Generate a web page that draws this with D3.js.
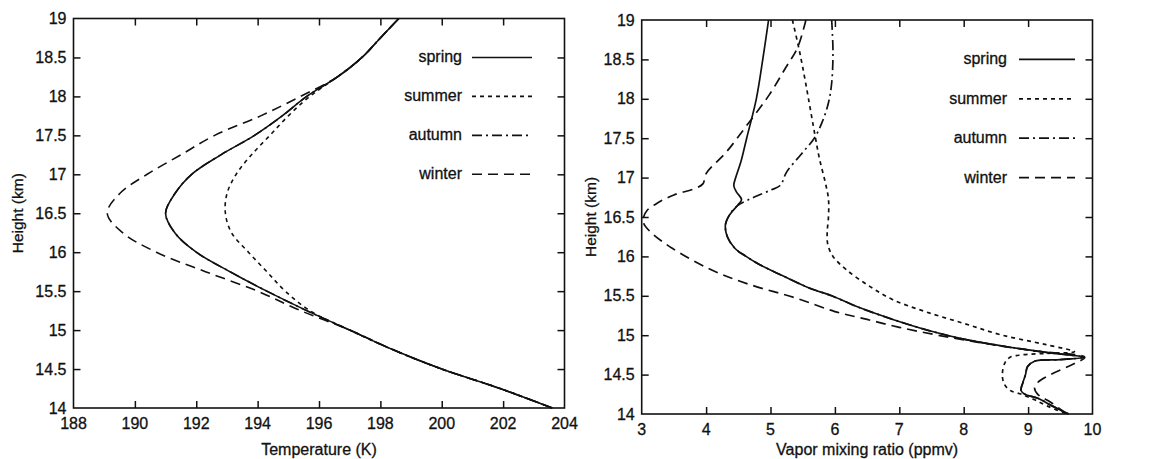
<!DOCTYPE html>
<html>
<head>
<meta charset="utf-8">
<script src="https://cdn.jsdelivr.net/npm/d3@7/dist/d3.min.js"></script>
<style>
  html, body { margin: 0; padding: 0; background: #fff; }
  svg { display: block; }
  text { font-family: "Liberation Sans", Arial, Helvetica, sans-serif; fill: #111; stroke: #111; stroke-width: 0.3px; }
</style>
</head>
<body>
<svg id="chart" width="1154" height="459"></svg>
<script>
// ---- Seasonal profiles: temperature (K) versus height (km) ----
const tempHeights = [14, 14.25, 14.5, 14.75, 15, 15.25, 15.5, 15.75, 16, 16.25, 16.5,
                     16.75, 17, 17.25, 17.5, 17.75, 18, 18.25, 18.5, 18.75, 19];
const tempSpring = [203.6, 201.9, 200.0, 198.4, 197.0, 195.6, 194.3, 193.1, 192.0, 191.3, 191.0,
                    191.3, 191.85, 192.8, 193.9, 194.8, 195.6, 196.6, 197.4, 198.0, 198.6];
const tempSummer = [203.6, 201.9, 200.0, 198.4, 197.0, 195.7, 194.9, 194.3, 193.7, 193.15, 192.95,
                    193.0, 193.3, 193.8, 194.4, 195.0, 195.7, 196.6, 197.4, 198.0, 198.6];
const tempAutumn = [203.6, 201.9, 200.0, 198.4, 197.0, 195.6, 194.3, 193.1, 192.0, 191.3, 191.0,
                    191.3, 191.85, 192.8, 193.9, 194.8, 195.6, 196.6, 197.4, 198.0, 198.6];
const tempWinter = [203.6, 201.9, 200.0, 198.4, 197.0, 195.4, 194.0, 192.3, 190.7, 189.6, 189.1,
                    189.5, 190.4, 191.5, 192.6, 194.1, 195.4, 196.6, 197.4, 198.0, 198.6];

// ---- Seasonal profiles: water vapour mixing ratio (ppmv) versus height (km) ----
const vapSpringH = [19.0, 18.5, 18.0, 17.5, 17.2, 17.0, 16.9, 16.82, 16.72, 16.65, 16.52, 16.4,
                    16.25, 16.1, 16.0, 15.9, 15.75, 15.6, 15.5, 15.36, 15.2, 15.05, 14.95, 14.85,
                    14.78, 14.72, 14.69, 14.67, 14.6, 14.5, 14.4, 14.3, 14.25, 14.2, 14.1, 14.0];
const vapSpring  = [4.97, 4.88, 4.78, 4.63, 4.54, 4.46, 4.43, 4.47, 4.55, 4.49, 4.36, 4.30,
                    4.33, 4.45, 4.62, 4.82, 5.2, 5.6, 5.95, 6.35, 6.9, 7.5, 8.0, 8.7,
                    9.3, 9.87, 9.5, 9.1, 8.99, 8.96, 8.92, 8.89, 8.95, 9.15, 9.38, 9.63];

const vapSummerH = [19.0, 18.68, 18.4, 18.0, 17.54, 17.24, 16.94, 16.73, 16.5, 16.3, 16.15, 16.0,
                    15.83, 15.62, 15.45, 15.3, 15.15, 15.0, 14.88, 14.79, 14.77, 14.75, 14.72, 14.65,
                    14.5, 14.38, 14.3, 14.25, 14.18, 14.1, 14.0];
const vapSummer  = [5.34, 5.43, 5.5, 5.59, 5.69, 5.76, 5.85, 5.9, 5.9, 5.88, 5.89, 5.97,
                    6.18, 6.54, 6.9, 7.4, 8.0, 8.6, 9.28, 9.72, 9.3, 8.9, 8.72, 8.64,
                    8.6, 8.63, 8.72, 8.9, 9.1, 9.3, 9.6];

const vapAutumnH = [19.0, 18.6, 18.2, 17.95, 17.7, 17.5, 17.3, 17.07, 16.9, 16.84, 16.75, 16.65, 16.55,
                    16.4, 16.25, 16.1, 16.0, 15.9, 15.75, 15.6, 15.5, 15.36, 15.2, 15.05, 14.95, 14.85,
                    14.78, 14.72, 14.69, 14.67, 14.6, 14.5, 14.4, 14.3, 14.25, 14.2, 14.1, 14.0];
const vapAutumn  = [5.95, 5.97, 5.95, 5.9, 5.8, 5.68, 5.48, 5.25, 5.15, 5.0, 4.74, 4.5, 4.38,
                    4.30, 4.33, 4.45, 4.62, 4.82, 5.2, 5.6, 5.95, 6.35, 6.9, 7.5, 8.0, 8.7,
                    9.3, 9.87, 9.5, 9.1, 8.99, 8.96, 8.92, 8.89, 8.95, 9.15, 9.38, 9.63];

const vapWinterH = [19.0, 18.65, 18.4, 18.05, 17.65, 17.33, 17.05, 16.92, 16.86, 16.78, 16.68, 16.58,
                    16.5, 16.42, 16.3, 16.1, 15.83, 15.65, 15.47, 15.3, 15.2, 15.1, 15.0, 14.9,
                    14.8, 14.72, 14.64, 14.5, 14.4, 14.33, 14.25, 14.15, 14.0];
const vapWinter  = [5.55, 5.42, 5.24, 4.98, 4.62, 4.32, 4.0, 3.95, 3.82, 3.5, 3.25, 3.08,
                    3.03, 3.03, 3.15, 3.48, 4.08, 4.65, 5.4, 6.0, 6.5, 7.0, 7.6, 8.3,
                    9.1, 9.88, 9.72, 9.35, 9.15, 9.1, 9.15, 9.35, 9.6];

// ---- Axis ticks and labels ----
const seasons = ["spring", "summer", "autumn", "winter"];
const heightTicks = [14, 14.5, 15, 15.5, 16, 16.5, 17, 17.5, 18, 18.5, 19];
const tempTicks = [188, 190, 192, 194, 196, 198, 200, 202, 204];
const vapTicks = [3, 4, 5, 6, 7, 8, 9, 10];
const heightTitle = "Height (km)";
const tempTitle = "Temperature (K)";
const vapTitle = "Vapor mixing ratio (ppmv)";
const legendHeights = [18.5, 18, 17.5, 17];

// line style for each season
const dashes = {
  spring: null,
  summer: "4,4",
  autumn: "10,4,2,4",
  winter: "10,6"
};

const svg = d3.select("#chart");
const INK = "#111";
const FONT = 16;

function zip(xs, hs) { return xs.map((x, i) => ({ x: x, h: hs[i] })); }

function drawPanel(p) {
  const x = d3.scaleLinear().domain(p.xDomain).range([p.left, p.right]);
  const y = d3.scaleLinear().domain([14, 19]).range([p.bottom, p.top]);
  const g = svg.append("g");
  const tick = 7;

  // inward ticks on all four sides
  const innerX = p.xTicks.slice(1, -1);
  const innerY = heightTicks.slice(1, -1);
  g.append("g").attr("transform", `translate(0,${p.bottom})`)
    .call(d3.axisBottom(x).tickValues(innerX).tickSize(-tick).tickFormat(""))
    .call(a => a.select(".domain").remove());
  g.append("g").attr("transform", `translate(0,${p.top})`)
    .call(d3.axisTop(x).tickValues(innerX).tickSize(-tick).tickFormat(""))
    .call(a => a.select(".domain").remove());
  g.append("g").attr("transform", `translate(${p.left},0)`)
    .call(d3.axisLeft(y).tickValues(innerY).tickSize(-tick).tickFormat(""))
    .call(a => a.select(".domain").remove());
  g.append("g").attr("transform", `translate(${p.right},0)`)
    .call(d3.axisRight(y).tickValues(innerY).tickSize(-tick).tickFormat(""))
    .call(a => a.select(".domain").remove());
  g.selectAll(".tick line").attr("stroke", INK).attr("stroke-width", 1.5);

  // tick labels
  g.append("g").selectAll("text").data(p.xTicks).join("text")
    .attr("x", d => x(d)).attr("y", p.bottom + 21)
    .attr("text-anchor", "middle").attr("font-size", FONT)
    .text(d => d);
  g.append("g").selectAll("text").data(heightTicks).join("text")
    .attr("x", p.left - 7).attr("y", d => y(d) + 5.5)
    .attr("text-anchor", "end").attr("font-size", FONT)
    .text(d => d);

  // frame
  g.append("rect")
    .attr("x", p.left).attr("y", p.top)
    .attr("width", p.right - p.left).attr("height", p.bottom - p.top)
    .attr("fill", "none").attr("stroke", INK).attr("stroke-width", 1.6);

  // axis titles
  g.append("text")
    .attr("x", (p.left + p.right) / 2).attr("y", 455)
    .attr("text-anchor", "middle").attr("font-size", FONT)
    .text(p.xTitle);
  g.append("text")
    .attr("transform", `translate(${p.yTitleX},${(p.top + p.bottom) / 2}) rotate(-90)`)
    .attr("text-anchor", "middle").attr("font-size", FONT - 0.5)
    .text(heightTitle);

  // profile curves
  const line = d3.line()
    .x(d => x(d.x)).y(d => y(d.h))
    .curve(d3.curveCatmullRom.alpha(0.5));
  const clipId = "clip-" + p.id;
  g.append("clipPath").attr("id", clipId)
    .append("rect").attr("x", p.left).attr("y", p.top - 1)
    .attr("width", p.right - p.left).attr("height", p.bottom - p.top + 2);
  p.series.forEach(s => {
    g.append("path")
      .attr("clip-path", `url(#${clipId})`)
      .attr("d", line(s.points))
      .attr("fill", "none").attr("stroke", INK)
      .attr("stroke-width", p.lineWidth)
      .attr("stroke-linejoin", "round")
      .attr("stroke-dasharray", dashes[s.name]);
  });

  // legend
  const lg = g.append("g");
  seasons.forEach((name, i) => {
    const ly = y(legendHeights[i]);
    lg.append("text")
      .attr("x", p.legendText).attr("y", ly + 5)
      .attr("text-anchor", "end").attr("font-size", FONT)
      .text(name);
    lg.append("line")
      .attr("x1", p.legendLine[0]).attr("x2", p.legendLine[1])
      .attr("y1", ly).attr("y2", ly)
      .attr("stroke", INK).attr("stroke-width", p.lineWidth)
      .attr("stroke-dasharray", dashes[name]);
  });
}

drawPanel({
  id: "temp",
  xDomain: [188, 204],
  left: 73.5, right: 564.5, top: 18.5, bottom: 408,
  xTicks: tempTicks,
  xTitle: tempTitle,
  yTitleX: 23,
  lineWidth: 1.6,
  legendText: 462, legendLine: [472, 532],
  series: [
    { name: "spring", points: zip(tempSpring, tempHeights) },
    { name: "summer", points: zip(tempSummer, tempHeights) },
    { name: "autumn", points: zip(tempAutumn, tempHeights) },
    { name: "winter", points: zip(tempWinter, tempHeights) }
  ]
});

drawPanel({
  id: "vap",
  xDomain: [3, 10],
  left: 641.7, right: 1092.5, top: 20, bottom: 414,
  xTicks: vapTicks,
  xTitle: vapTitle,
  yTitleX: 596,
  lineWidth: 1.7,
  legendText: 1007, legendLine: [1019, 1075],
  series: [
    { name: "spring", points: zip(vapSpring, vapSpringH) },
    { name: "summer", points: zip(vapSummer, vapSummerH) },
    { name: "autumn", points: zip(vapAutumn, vapAutumnH) },
    { name: "winter", points: zip(vapWinter, vapWinterH) }
  ]
});
</script>
</body>
</html>
